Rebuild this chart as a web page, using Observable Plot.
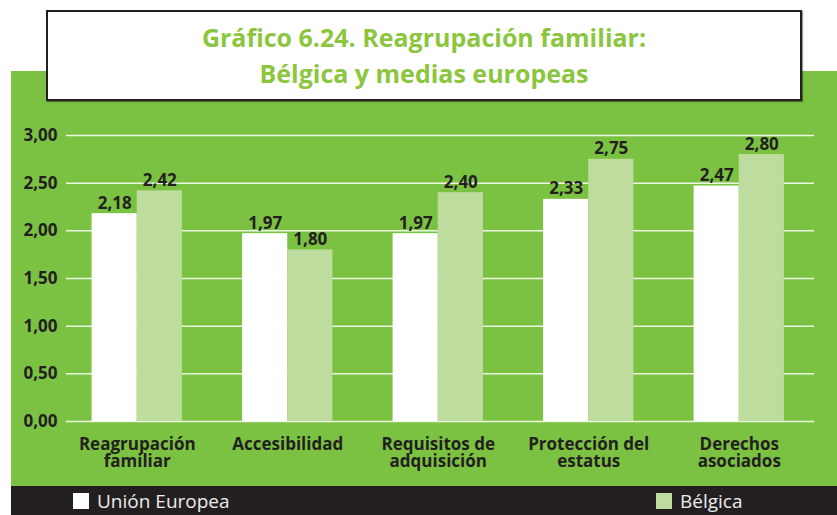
<!DOCTYPE html>
<html>
<head>
<meta charset="utf-8">
<script src="https://cdn.jsdelivr.net/npm/d3@7"></script>
<script src="https://cdn.jsdelivr.net/npm/@observablehq/plot@0.6"></script>
<style>
  html, body { margin: 0; padding: 0; background: #ffffff; }
  #wrap { position: relative; width: 837px; height: 515px; overflow: hidden; font-family: "Open Sans", sans-serif; }
  #green { position: absolute; left: 11px; top: 71px; width: 826px; height: 415px; background: #7cc242; }
  #titlebox { position: absolute; left: 46px; top: 10px; width: 752px; height: 87px; background: #fff; border: 2px solid #231f20; box-shadow: 1px 1px 1px rgba(0,0,0,0.4); text-align: center; }
  #titlebox .t { display: inline-block; color: #8cc63f; font-weight: 700; font-size: 25px; line-height: 36px; margin-top: 7px; white-space: nowrap; }
  #chart { position: absolute; left: 0; top: 101px; }
  #legend { position: absolute; left: 11px; top: 486px; width: 826px; height: 29px; background: #231f20; }
  .item { position: absolute; top: 7px; height: 16px; color: #ececec; font-size: 19px; line-height: 17px; white-space: nowrap; }
  .item .sw { display: inline-block; width: 16px; height: 16px; vertical-align: top; margin-right: 8px; }
</style>
</head>
<body>
<div id="wrap">
  <div id="green"></div>
  <div id="titlebox"><span class="t" id="title"></span></div>
  <div id="chart"></div>
  <div id="legend"></div>
</div>
<script>
const titleLines = ["Gráfico 6.24. Reagrupación familiar:", "Bélgica y medias europeas"];
const categories = ["Reagrupación familiar", "Accesibilidad", "Requisitos de adquisición", "Protección del estatus", "Derechos asociados"];
const categoryLabels = ["Reagrupación\nfamiliar", "Accesibilidad", "Requisitos de\nadquisición", "Protección del\nestatus", "Derechos\nasociados"];
const seriesNames = ["Unión Europea", "Bélgica"];
const ueValues = [2.18, 1.97, 1.97, 2.33, 2.47];
const beValues = [2.42, 1.80, 2.40, 2.75, 2.80];
const yTicks = [0, 0.5, 1, 1.5, 2, 2.5, 3];
const seriesColors = ["#ffffff", "#bedc9d"];

document.getElementById("title").innerHTML = titleLines.join("<br>");

const fmt = v => d3.format(".2f")(v).replace(".", ",");
const half = 0.3;
const data = [];
categories.forEach((c, i) => {
  data.push({i, cat: c, series: seriesNames[0], value: ueValues[i], x1: i - half, x2: i});
  data.push({i, cat: c, series: seriesNames[1], value: beValues[i], x1: i, x2: i + half});
});

const chart = Plot.plot({
  width: 837,
  height: 385,
  marginLeft: 66,
  marginRight: 23,
  marginTop: 34,
  marginBottom: 65,
  style: {background: "transparent", fontFamily: "Open Sans, sans-serif", color: "#231f20", overflow: "visible"},
  x: {domain: [-0.47, 4.5], axis: null, label: null},
  y: {domain: [0, 3], axis: null, label: null},
  color: {domain: seriesNames, range: seriesColors},
  marks: [
    Plot.ruleY(yTicks, {stroke: "#ffffff", strokeWidth: 1.5, strokeOpacity: 0.85}),
    Plot.rectY(data, {x1: "x1", x2: "x2", y: "value", fill: "series"}),
    Plot.text(data, {x: d => (d.x1 + d.x2) / 2, y: "value", text: d => fmt(d.value), lineAnchor: "bottom", dy: -5, fontSize: 17, fontWeight: 700, fill: "#231f20"}),
    Plot.axisY(yTicks, {tickSize: 0, tickPadding: 9, tickFormat: fmt, fontSize: 17, fontWeight: 700, fill: "#231f20", label: null}),
    Plot.axisX(d3.range(categories.length), {tickSize: 0, tickPadding: 16, tickFormat: i => categoryLabels[i], fontSize: 17, fontWeight: 700, fill: "#231f20", lineHeight: 1.0, label: null})
  ]
});
document.getElementById("chart").appendChild(chart);

const legend = document.getElementById("legend");
const legendX = [62, 645];
seriesNames.forEach((s, k) => {
  const it = document.createElement("div");
  it.className = "item";
  it.style.left = legendX[k] + "px";
  it.innerHTML = `<span class="sw" style="background:${seriesColors[k]}"></span>${s}`;
  legend.appendChild(it);
});
</script>
</body>
</html>
